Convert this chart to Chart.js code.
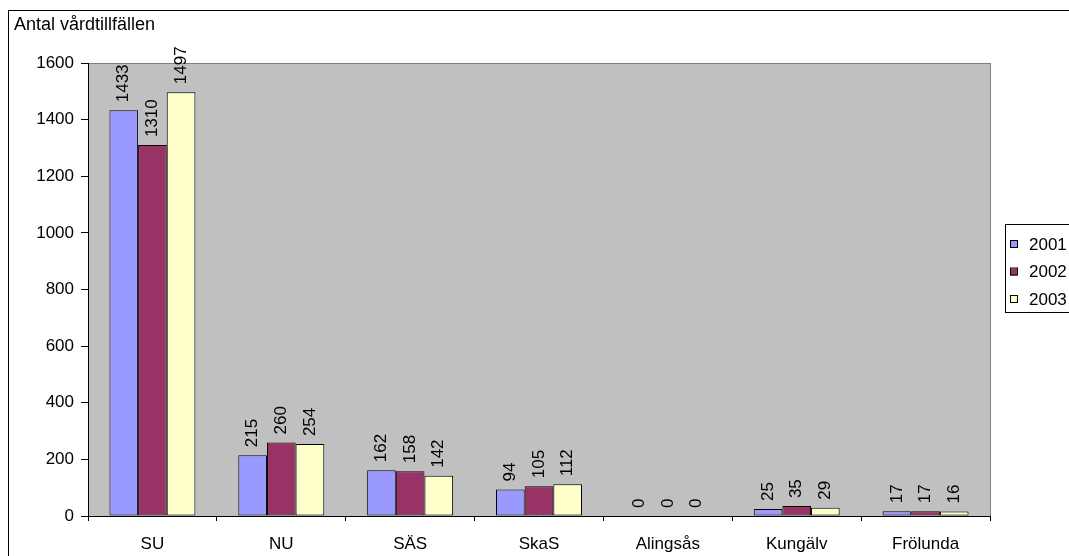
<!DOCTYPE html>
<html>
<head>
<meta charset="utf-8">
<script src="https://cdn.jsdelivr.net/npm/chart.js@4"></script>
<style>
  html, body { margin: 0; padding: 0; background: #fff; }
  #wrap { width: 1069px; height: 556px; position: relative; }
</style>
</head>
<body>
<div id="wrap"><canvas id="chart"></canvas></div>
<script>
const categories = ["SU", "NU", "SÄS", "SkaS", "Alingsås", "Kungälv", "Frölunda"];
const years = ["2001", "2002", "2003"];
const values2001 = [1433, 215, 162, 94, 0, 25, 17];
const values2002 = [1310, 260, 158, 105, 0, 35, 17];
const values2003 = [1497, 254, 142, 112, 0, 29, 16];
const yTicks = [0, 200, 400, 600, 800, 1000, 1200, 1400, 1600];
const colors = ["#9999FF", "#993366", "#FFFFCC"];
const axisTitle = "Antal vårdtillfällen";

const font = "Arial, 'Liberation Sans', sans-serif";
const fsize = 17;

// grey plot area + outer frame + axis title
const frame = {
    id: "frame",
    beforeDraw(chart) {
        const c = chart.ctx;
        const a = chart.chartArea;
        c.save();
        c.fillStyle = "#fff";
        c.fillRect(0, 0, chart.width, chart.height);
        c.strokeStyle = "#000";
        c.lineWidth = 1;
        c.strokeRect(8.5, 10.5, 1100, 600);
        c.fillStyle = "#C0C0C0";
        c.fillRect(a.left, a.top, a.right - a.left, a.bottom - a.top);
        c.strokeStyle = "#808080";
        c.strokeRect(a.left + 0.5, a.top + 0.5, a.right - a.left, a.bottom - a.top);
        c.fillStyle = "#000";
        c.font = "18px " + font;
        c.textBaseline = "middle";
        c.textAlign = "left";
        c.fillText(axisTitle, 14, 25);
        c.restore();
    },
    afterDatasetsDraw(chart) {
        const c = chart.ctx;
        c.save();
        c.fillStyle = "#000";
        c.font = fsize + "px " + font;
        c.textAlign = "left";
        c.textBaseline = "middle";
        chart.data.datasets.forEach((ds, i) => {
            chart.getDatasetMeta(i).data.forEach((bar, j) => {
                c.save();
                c.translate(bar.x, bar.y - 8);
                c.rotate(-Math.PI / 2);
                c.fillText(String(ds.data[j]), 0, 0);
                c.restore();
            });
        });
        c.restore();
    },
    afterDraw(chart) {
        // legend box
        const c = chart.ctx;
        c.save();
        c.strokeStyle = "#000";
        c.lineWidth = 1;
        c.fillStyle = "#fff";
        c.fillRect(1005, 224, 80, 88);
        c.strokeRect(1005.5, 224.5, 80, 88);
        c.font = fsize + "px " + font;
        c.textBaseline = "middle";
        chart.data.datasets.forEach((ds, i) => {
            const y = 244 + i * 27.5;
            c.fillStyle = ds.backgroundColor;
            c.fillRect(1010, y - 3, 7, 7);
            c.strokeRect(1010.5, y - 3.5, 7, 7);
            c.fillStyle = "#000";
            c.fillText(ds.label, 1029, y + 1);
        });
        c.restore();
    }
};

const data = {
    labels: categories,
    datasets: [
        { label: years[0], data: values2001, backgroundColor: colors[0] },
        { label: years[1], data: values2002, backgroundColor: colors[1] },
        { label: years[2], data: values2003, backgroundColor: colors[2] },
    ].map(d => Object.assign(d, { borderColor: "#000", borderWidth: 1, borderSkipped: false })),
};

const config = {
    type: "bar",
    data: data,
    options: {
        responsive: false,
        animation: false,
        devicePixelRatio: 1,
        layout: { padding: { left: 0, top: 63, right: 79, bottom: 0 } },
        datasets: { bar: { categoryPercentage: 0.667, barPercentage: 1 } },
        scales: {
            x: {
                grid: { offset: true, drawOnChartArea: false, color: "#000", tickLength: 5 },
                border: { color: "#000", width: 1 },
                ticks: { color: "#000", font: { family: font, size: fsize }, padding: 13, maxRotation: 0 },
                afterFit(s) { s.height = 40; },
            },
            y: {
                min: 0,
                max: 1600,
                afterBuildTicks(s) { s.ticks = yTicks.map(v => ({ value: v })); },
                grid: { drawOnChartArea: false, color: "#000", tickLength: 7 },
                border: { color: "#000", width: 1 },
                ticks: { color: "#000", font: { family: font, size: fsize }, padding: 7, callback: v => String(v) },
                afterFit(s) { s.width = 88; },
            },
        },
        plugins: {
            legend: { display: false },
            tooltip: { enabled: false },
        },
    },
    plugins: [frame],
};

const cv = document.getElementById("chart");
cv.width = 1069;
cv.height = 556;
const barChart = new Chart(cv, config);
</script>
</body>
</html>
